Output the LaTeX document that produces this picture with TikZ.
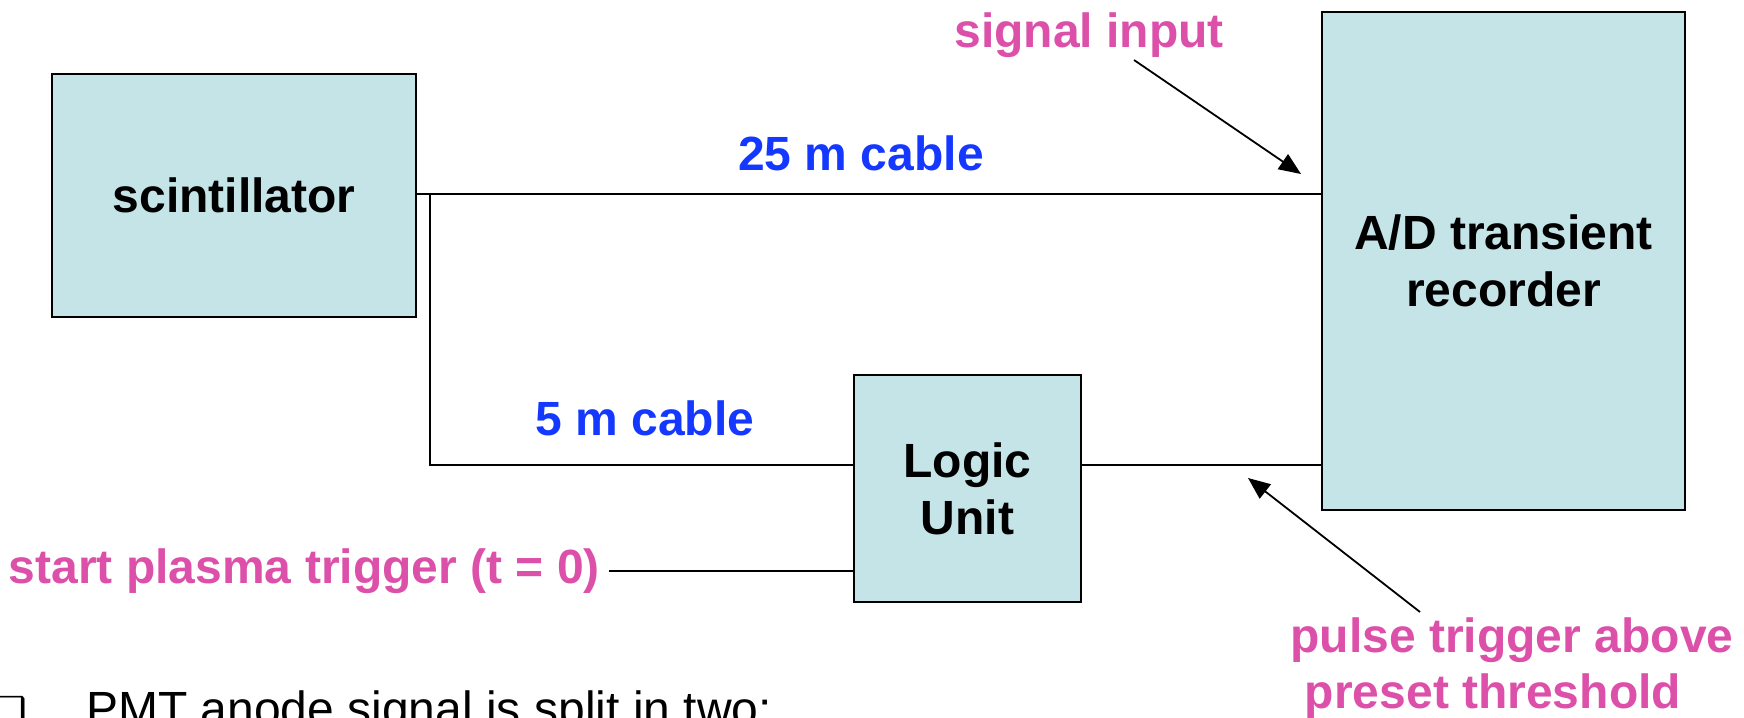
\documentclass[tikz,border=0pt]{standalone}
\usepackage{fontspec}
\setmainfont{Liberation Sans}
\newfontfamily\dejavu{DejaVu Sans}
\usetikzlibrary{arrows.meta,calc}
\definecolor{boxfill}{HTML}{C5E4E8}
\definecolor{pinklbl}{HTML}{DC50AA}
\definecolor{bluelbl}{HTML}{1438FF}
\begin{document}
\begin{tikzpicture}[x=1pt,y=-1pt,
  blk/.style={draw=black, line width=1.8pt, fill=boxfill, inner sep=0pt, align=center, font=\fontsize{48}{57}\selectfont\bfseries},
  wire/.style={line width=1.8pt},
  ptr/.style={line width=1.8pt, -{Triangle[length=22pt,width=18pt]}},
  pinktxt/.style={text=pinklbl, font=\fontsize{48}{56}\selectfont\bfseries, inner sep=0pt},
  bluetxt/.style={text=bluelbl, font=\fontsize{48}{56}\selectfont\bfseries, inner sep=0pt}]
\useasboundingbox (0,0) rectangle (1744,717);
\fill[white] (0,0) rectangle (1744,717);
% blocks
\node[blk, minimum width=364pt, minimum height=243pt] (scint) at (234,195.5) {scintillator};
\node[blk, minimum width=227pt, minimum height=227pt] (logic) at (967.5,488.5) {Logic\\Unit};
\node[blk, minimum width=363pt, minimum height=498pt] (ad) at (1503.5,261) {A/D transient\\recorder};
% wiring
\coordinate (split) at (430,194);
\coordinate (lowin) at ($(logic.north west)+(0,91)$);
\coordinate (lowout) at ($(logic.north east)+(0,91)$);
\draw[wire] (scint.east |- split) -- (split -| ad.west);
\draw[wire] (split) |- (lowin);
\draw[wire] (lowout) -- (lowout -| ad.west);
% start trigger
\node[pinktxt, anchor=east] (start) at (600,571) {start plasma trigger (t = 0)};
\draw[wire] ([xshift=9pt]start.east) -- (start.east -| logic.west);
% labels
\node[pinktxt, anchor=base] (siglbl) at (1089,48) {signal input};
\coordinate (sigtail) at (1134,60);
\coordinate (sigtip) at (1301,174);
\draw[ptr] (sigtail) -- (sigtip);
\node[bluetxt, anchor=base] (c25) at (861,170) {25 m cable};
\node[bluetxt, anchor=base] (c5) at (645,435) {5 m cable};
\node[pinktxt, anchor=base] (pulseA) at (1512,652) {pulse trigger above};
\node[pinktxt, anchor=base] (pulseB) at (1493,708) {preset threshold};
\coordinate (pultail) at (1420,612);
\coordinate (pultip) at (1248,478);
\draw[ptr] (pultail) -- (pultip);
% bottom bullet text
\node[anchor=base west, inner sep=0pt, font=\fontsize{48}{56}\selectfont] (pmt) at (86,725) {PMT anode signal is split in two:};
\node[anchor=base east, inner sep=0pt, font=\dejavu\fontsize{40}{48}\selectfont] (bul) at (28,725) {❑};
\end{tikzpicture}
\end{document}
